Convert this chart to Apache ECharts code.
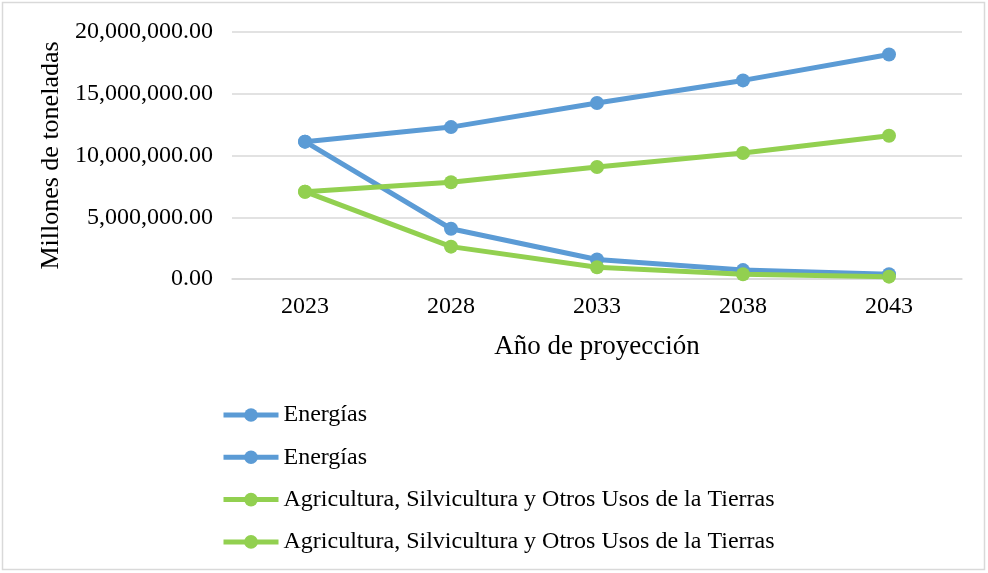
<!DOCTYPE html>
<html>
<head>
<meta charset="utf-8">
<script src="https://cdn.jsdelivr.net/npm/echarts@6/dist/echarts.min.js"></script>
<style>
  html, body { margin: 0; padding: 0; background: #fff; }
  #chart { width: 988px; height: 573px; }
</style>
</head>
<body>
<div id="chart"></div>
<script>
// Projection years on the category axis
const years = ['2023', '2028', '2033', '2038', '2043'];

// Emissions projections (toneladas)
const energiasAlta = [11120000, 12300000, 14250000, 16080000, 18180000];
const energiasBaja = [11120000, 4070000, 1580000, 720000, 380000];
const agriAlta = [7070000, 7830000, 9070000, 10200000, 11600000];
const agriBaja = [7070000, 2620000, 950000, 380000, 190000];

// Y-axis ticks
const yTicks = [0, 5000000, 10000000, 15000000, 20000000];

const BLUE = '#5B9BD5';
const GREEN = '#92D050';
const FONT = '"Liberation Serif", "Times New Roman", serif';

function fmt(v) {
  return v.toLocaleString('en-US', { minimumFractionDigits: 2, maximumFractionDigits: 2 });
}

function lineSeries(name, data, color) {
  return {
    name: name,
    type: 'line',
    data: data,
    symbol: 'circle',
    symbolSize: 14,
    lineStyle: { color: color, width: 5 },
    itemStyle: { color: color },
    emphasis: { disabled: true }
  };
}

const chart = echarts.init(document.getElementById('chart'), null, { renderer: 'canvas' });

chart.setOption({
  animation: false,
  backgroundColor: '#fff',
  textStyle: { fontFamily: FONT, color: '#000' },
  graphic: [{
    type: 'rect',
    shape: { x: 2.5, y: 2.5, width: 982, height: 567 },
    style: { fill: 'none', stroke: '#d9d9d9', lineWidth: 1.5 },
    silent: true
  }],
  grid: { left: 232, right: 26, top: 32, bottom: 294, containLabel: false },
  xAxis: {
    type: 'category',
    data: years,
    boundaryGap: true,
    name: 'Año de proyección',
    nameLocation: 'middle',
    nameGap: 54,
    nameTextStyle: { fontFamily: FONT, fontSize: 27, color: '#000' },
    axisLine: { show: true, lineStyle: { color: '#d9d9d9', width: 1.5 } },
    axisTick: { show: false },
    axisLabel: { fontFamily: FONT, fontSize: 24, color: '#000', margin: 16 },
    splitLine: { show: false }
  },
  yAxis: {
    type: 'value',
    min: yTicks[0],
    max: yTicks[yTicks.length - 1],
    interval: yTicks[1] - yTicks[0],
    name: 'Millones de toneladas',
    nameLocation: 'middle',
    nameGap: 167,
    nameRotate: 90,
    nameTextStyle: { fontFamily: FONT, fontSize: 26, color: '#000' },
    axisLine: { show: false },
    axisTick: { show: false },
    axisLabel: { fontFamily: FONT, fontSize: 24, color: '#000', margin: 19, formatter: fmt },
    splitLine: { lineStyle: { color: '#d9d9d9', width: 1.5 } }
  },
  legend: {
    orient: 'vertical',
    left: 216,
    top: 398,
    itemWidth: 55,
    itemHeight: 17,
    itemGap: 18.3,
    data: ['Energías', 'Energías ', 'Agricultura, Silvicultura y Otros Usos de la Tierras', 'Agricultura, Silvicultura y Otros Usos de la Tierras '],
    formatter: function (n) { return n.trim(); },
    lineStyle: { width: 5 },
    textStyle: { fontFamily: FONT, fontSize: 24, color: '#000', lineHeight: 24 },
    selectedMode: false
  },
  series: [
    lineSeries('Energías', energiasAlta, BLUE),
    lineSeries('Energías ', energiasBaja, BLUE),
    lineSeries('Agricultura, Silvicultura y Otros Usos de la Tierras', agriAlta, GREEN),
    lineSeries('Agricultura, Silvicultura y Otros Usos de la Tierras ', agriBaja, GREEN)
  ]
});
</script>
</body>
</html>
